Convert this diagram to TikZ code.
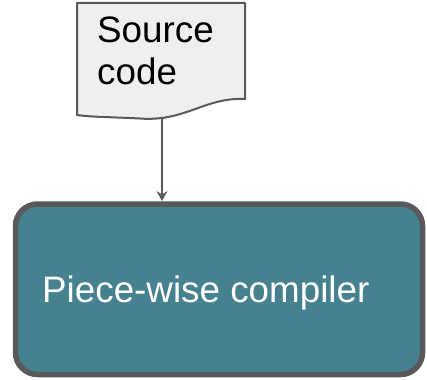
\documentclass[tikz,border=0pt]{standalone}
\usepackage{fontspec}
\setmainfont{Liberation Sans}
\usetikzlibrary{arrows.meta}
\definecolor{edgegray}{HTML}{595959}
\definecolor{docfill}{HTML}{EFEFEF}
\definecolor{tealfill}{HTML}{45818E}
\tikzset{
  docshape/.style={draw=edgegray, fill=docfill, line width=2pt, line join=round},
  compbox/.style={draw=edgegray, fill=tealfill, line width=5.5pt, rounded corners=22pt},
  bigtext/.style={inner sep=0pt, font=\fontsize{36.8}{42}\selectfont},
  flow/.style={draw=edgegray, line width=2.6pt, -{Stealth[length=10pt, width=11pt, inset=3.5pt]}}
}
\begin{document}
\begin{tikzpicture}[x=1pt, y=-1pt]
  \useasboundingbox (0,0) rectangle (427,379);
  % source document with wavy bottom edge
  \draw[docshape] (77,3) -- (245,3) -- (245,99)
    .. controls (205,97) and (185,122) .. (140,118.5)
    .. controls (110,117) and (90,117) .. (77,115) -- cycle;
  \coordinate (docbottom) at (162,118);
  \node[bigtext, anchor=base west] (src1) at (97,43) {Source};
  \node[bigtext, anchor=base west] (src2) at (97,85) {code};
  % compiler box
  \draw[compbox] (15.5,204) rectangle (422.5,374.5);
  \coordinate (boxtop) at (162,201);
  \node[bigtext, anchor=base west, text=white] (comp) at (42,302) {Piece-wise compiler};
  % connector
  \draw[flow] (docbottom) -- (boxtop);
\end{tikzpicture}
\end{document}
